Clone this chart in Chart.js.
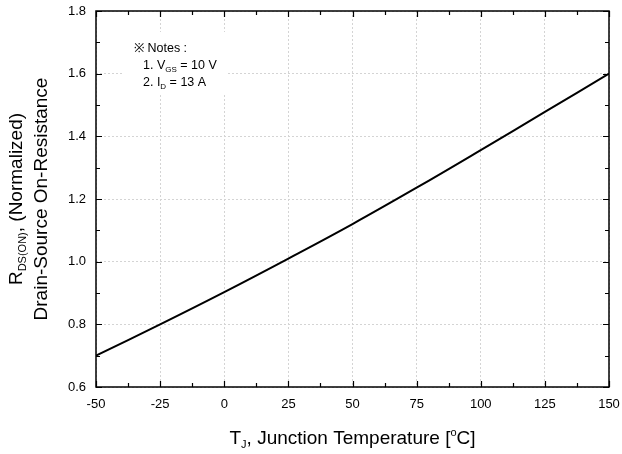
<!DOCTYPE html>
<html>
<head>
<meta charset="utf-8">
<script src="https://cdn.jsdelivr.net/npm/chart.js@4"></script>
<style>
  html, body { margin: 0; padding: 0; background: #fff; }
  #wrap { width: 622px; height: 454px; }
</style>
</head>
<body>
<div id="wrap"><canvas id="rdsChart" width="622" height="454"></canvas></div>
<script>
// Junction temperature (°C) and normalized on-resistance
const tempC = [-50, -25, 0, 25, 50, 75, 100, 125, 150];
const rdsNorm = [0.70, 0.80, 0.903, 1.010, 1.120, 1.236, 1.356, 1.478, 1.600];

const xTicks = [-50, -25, 0, 25, 50, 75, 100, 125, 150];
const yTicks = [0.6, 0.8, 1.0, 1.2, 1.4, 1.6, 1.8];

const FONT = "Arial, 'Liberation Sans', sans-serif";

// frame, inward ticks, notes box and axis titles with sub/superscripts
const decorations = {
  id: 'decorations',
  beforeDatasetsDraw(chart) {
    const ctx = chart.ctx;
    ctx.save();
    // notes box hides the grid behind it
    ctx.fillStyle = '#fff';
    ctx.fillRect(123, 32, 105, 63);
    ctx.fillStyle = '#000';
    ctx.textBaseline = 'alphabetic';
    ctx.font = '12.5px ' + FONT;
    ctx.fillText('\u203B Notes :', 134, 52);
    drawRich(ctx, 143, 69, [['1. V', 12.5, 0], ['GS', 8, 3], [' = 10 V', 12.5, 0]]);
    drawRich(ctx, 143, 86, [['2. I', 12.5, 0], ['D', 8, 3], [' = 13 A', 12.5, 0]]);
    ctx.restore();
  },
  afterDraw(chart) {
    const ctx = chart.ctx;
    const a = chart.chartArea;
    const xs = chart.scales.x, ys = chart.scales.y;
    ctx.save();
    ctx.strokeStyle = '#000';
    ctx.lineWidth = 1.5;
    ctx.strokeRect(a.left, a.top, a.right - a.left, a.bottom - a.top);
    ctx.lineWidth = 1.2;
    ctx.beginPath();
    for (let v = -50; v <= 150; v += 12.5) {
      const px = Math.round(xs.getPixelForValue(v)) + 0.5;
      const len = (v % 25 === 0) ? 6 : 4;
      ctx.moveTo(px, a.bottom); ctx.lineTo(px, a.bottom - len);
      ctx.moveTo(px, a.top); ctx.lineTo(px, a.top + len);
    }
    for (let i = 0; i <= 12; i++) {
      const v = 0.6 + i * 0.1;
      const py = Math.round(ys.getPixelForValue(v)) + 0.5;
      const len = (i % 2 === 0) ? 6 : 4;
      ctx.moveTo(a.left, py); ctx.lineTo(a.left + len, py);
      ctx.moveTo(a.right, py); ctx.lineTo(a.right - len, py);
    }
    ctx.stroke();

    // x axis title
    ctx.fillStyle = '#000';
    const xParts = [['T', 19, 0], ['J', 11, 4], [', Junction Temperature [', 19, 0], ['o', 11, -8], ['C]', 19, 0]];
    const cx = (a.left + a.right) / 2;
    drawRich(ctx, cx - richWidth(ctx, xParts) / 2, 444, xParts);

    // y axis title, two rotated lines
    const cy = (a.top + a.bottom) / 2;
    const line1 = [['R', 19, 0], ['DS(ON)', 11, 4], [', (Normalized)', 19, 0]];
    const line2 = [['Drain-Source On-Resistance', 19, 0]];
    ctx.translate(0, cy);
    ctx.rotate(-Math.PI / 2);
    drawRich(ctx, -richWidth(ctx, line1) / 2, 22, line1);
    drawRich(ctx, -richWidth(ctx, line2) / 2, 47, line2);
    ctx.restore();
  }
};

function richWidth(ctx, parts) {
  let w = 0;
  parts.forEach(p => { ctx.font = p[1] + 'px ' + FONT; w += ctx.measureText(p[0]).width; });
  return w;
}

function drawRich(ctx, x, y, parts) {
  parts.forEach(p => {
    ctx.font = p[1] + 'px ' + FONT;
    ctx.fillText(p[0], x, y + p[2]);
    x += ctx.measureText(p[0]).width;
  });
}

new Chart(document.getElementById('rdsChart'), {
  type: 'line',
  data: {
    datasets: [{
      data: tempC.map((t, i) => ({ x: t, y: rdsNorm[i] })),
      borderColor: '#000',
      borderWidth: 2,
      pointRadius: 0,
      tension: 0.4,
      fill: false
    }]
  },
  options: {
    responsive: false,
    animation: false,
    events: [],
    layout: { padding: { left: 0, top: 11, right: 13, bottom: 0 } },
    plugins: { legend: { display: false }, tooltip: { enabled: false } },
    scales: {
      x: {
        type: 'linear',
        min: -50,
        max: 150,
        afterBuildTicks: s => { s.ticks = xTicks.map(v => ({ value: v })); },
        afterFit: s => { s.height = 67; s.paddingLeft = 0; s.paddingRight = 0; },
        grid: { color: '#d4d4d4', lineWidth: 1, drawTicks: false },
        border: { display: false, dash: [2, 2] },
        ticks: { padding: 10, color: '#000', font: { family: FONT, size: 13 }, maxRotation: 0 }
      },
      y: {
        min: 0.6,
        max: 1.8,
        afterBuildTicks: s => { s.ticks = yTicks.map(v => ({ value: v })); },
        afterFit: s => { s.width = 96; s.paddingTop = 0; s.paddingBottom = 0; },
        grid: { color: '#d4d4d4', lineWidth: 1, drawTicks: false },
        border: { display: false, dash: [2, 2] },
        ticks: {
          padding: 10,
          color: '#000',
          font: { family: FONT, size: 13 },
          callback: v => v.toFixed(1)
        }
      }
    }
  },
  plugins: [decorations]
});
</script>
</body>
</html>
